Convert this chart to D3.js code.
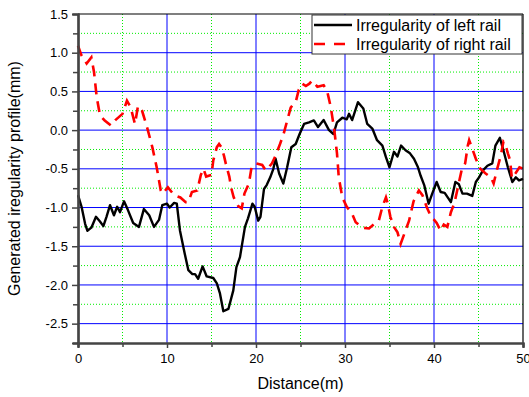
<!DOCTYPE html>
<html>
<head>
<meta charset="utf-8">
<script src="https://cdn.jsdelivr.net/npm/d3@7"></script>
<style>
  body { margin: 0; background: #fff; }
  text { font-family: "Liberation Sans", Arial, sans-serif; }
</style>
</head>
<body>
<svg id="chart"></svg>
<script>
// chart size
const width = 529;
const height = 397;
const margin = { top: 14, right: 6, bottom: 54, left: 78 };

// left rail irregularity
const leftX = [0, 0.4, 0.8, 1.05, 1.5, 2.02, 2.47, 2.85, 3.2, 3.6, 4.04, 4.4, 4.72, 5.17, 5.6, 6.2, 6.85, 7.4, 8.0, 8.54,
  9.1, 9.47, 10.0, 10.3, 10.8, 11.1, 11.46, 12.0, 12.4, 12.85, 13.15, 13.5, 14.0, 14.46, 15.2, 15.6, 15.95, 16.33, 16.9, 17.45,
  17.8, 18.2, 18.76, 19.1, 19.6, 19.85, 20.25, 20.5, 20.9, 21.2, 21.6, 21.95, 22.2, 22.6, 23.07, 23.5, 23.97, 24.46, 24.9, 25.4,
  25.96, 26.5, 26.97, 27.6, 28.2, 28.7, 29.1, 29.7, 30.2, 30.45, 30.8, 31.46, 32.06, 32.5, 33.07, 33.6, 34.2, 34.6, 35.0, 35.5,
  35.9, 36.3, 36.8, 37.3, 37.75, 38.2, 38.5, 38.9, 39.4, 39.8, 40.3, 40.75, 41.2, 41.9, 42.4, 42.8, 43.2, 43.7, 44.3, 44.7,
  45.06, 45.5, 46.0, 46.55, 46.9, 47.4, 47.8, 48.3, 48.8, 49.2, 49.55, 50];
const leftY = [-0.84, -0.99, -1.21, -1.30, -1.26, -1.12, -1.18, -1.24, -1.12, -0.97, -1.10, -0.99, -1.06, -0.92, -1.03, -1.20, -1.25, -1.02, -1.10, -1.25,
  -1.16, -0.97, -0.95, -1.00, -0.94, -0.95, -1.30, -1.60, -1.81, -1.86, -1.86, -1.92, -1.76, -1.89, -1.91, -1.98, -2.11, -2.34, -2.31, -2.07,
  -1.77, -1.64, -1.25, -1.14, -0.95, -0.99, -1.17, -1.12, -0.76, -0.71, -0.61, -0.50, -0.37, -0.56, -0.69, -0.48, -0.22, -0.18, -0.05, 0.08,
  0.10, 0.125, 0.04, 0.13, 0.0, -0.05, 0.10, 0.16, 0.14, 0.21, 0.13, 0.36, 0.28, 0.08, 0.02, -0.13, -0.20, -0.35, -0.48, -0.28,
  -0.34, -0.20, -0.26, -0.30, -0.37, -0.48, -0.59, -0.71, -0.95, -0.82, -0.67, -0.80, -0.81, -0.93, -0.67, -0.70, -0.82, -0.82, -0.85, -0.67,
  -0.61, -0.52, -0.46, -0.43, -0.20, -0.10, -0.26, -0.48, -0.67, -0.61, -0.65, -0.63];

// right rail irregularity
const rightX = [0, 0.37, 0.97, 1.5, 1.8, 2.1, 2.47, 3.0, 3.7, 4.2, 5.0, 5.5, 5.9, 6.4, 6.74, 7.2, 7.8, 8.35, 8.84, 9.3,
  9.5, 10.1, 10.8, 11.5, 12.1, 12.4, 12.8, 13.4, 13.8, 14.1, 14.4, 15.0, 15.2, 15.6, 15.85, 16.1, 16.4, 16.6, 17.0, 17.2,
  17.5, 18.0, 18.4, 18.7, 19.2, 19.5, 20.0, 20.7, 21.1, 21.5, 21.8, 22.2, 22.7, 23.1, 23.9, 24.5, 24.8, 25.2, 25.6, 26.0,
  26.3, 26.9, 27.6, 27.98, 28.4, 28.8, 29.1, 29.3, 29.7, 30.2, 30.8, 31.2, 31.96, 32.7, 33.3, 33.8, 34.2, 34.6, 34.8, 35.1,
  35.5, 35.9, 36.25, 36.6, 37.2, 37.7, 38.3, 38.7, 39.2, 39.6, 40.3, 40.75, 41.1, 41.5, 41.9, 42.3, 43.1, 43.5, 43.8, 43.95,
  44.3, 44.7, 45.2, 45.8, 46.4, 46.7, 47.1, 47.5, 47.8, 48.0, 48.3, 48.55, 48.75, 49.2, 49.6, 50];
const rightY = [1.09, 0.97, 0.86, 0.94, 0.75, 0.43, 0.19, 0.125, 0.06, 0.13, 0.21, 0.38, 0.30, 0.08, 0.31, 0.25, 0.02, -0.22, -0.48, -0.78,
  -0.82, -0.74, -0.84, -0.87, -0.93, -0.93, -0.80, -0.78, -0.58, -0.50, -0.60, -0.58, -0.39, -0.22, -0.18, -0.22, -0.33, -0.43, -0.60, -0.74,
  -0.87, -0.98, -1.01, -0.82, -0.69, -0.48, -0.43, -0.45, -0.52, -0.47, -0.43, -0.33, -0.18, -0.05, 0.29, 0.38, 0.52, 0.60, 0.57, 0.60,
  0.64, 0.56, 0.58, 0.51, 0.30, 0.0, -0.30, -0.61, -0.87, -0.99, -1.08, -1.19, -1.26, -1.27, -1.21, -1.17, -0.99, -0.87, -0.95, -1.12,
  -1.25, -1.32, -1.47, -1.36, -1.17, -0.92, -0.78, -0.84, -1.00, -1.10, -1.20, -1.30, -1.22, -1.25, -1.06, -0.94, -0.52, -0.43, -0.20, -0.13,
  -0.24, -0.37, -0.50, -0.56, -0.61, -0.69, -0.50, -0.33, -0.15, -0.18, -0.30, -0.39, -0.62, -0.55, -0.48, -0.50];

// ticks
const xMajor = [0, 10, 20, 30, 40, 50];
const xMinor = [5, 15, 25, 35, 45];
const yMajor = [-2.5, -2.0, -1.5, -1.0, -0.5, 0.0, 0.5, 1.0, 1.5];
const yMinor = [-2.75, -2.25, -1.75, -1.25, -0.75, -0.25, 0.25, 0.75, 1.25];

const seriesNames = ["Irregularity of left rail", "Irregularity of right rail"];

const svg = d3.select("#chart")
    .attr("width", width)
    .attr("height", height);

const x = d3.scaleLinear().domain([0, 50]).range([margin.left, width - margin.right]);
const y = d3.scaleLinear().domain([-2.75, 1.5]).range([height - margin.bottom, margin.top]);

// minor grid (green dotted)
svg.append("g").selectAll("line")
    .data(xMinor)
    .enter().append("line")
    .attr("x1", d => x(d)).attr("x2", d => x(d))
    .attr("y1", y(1.5)).attr("y2", y(-2.75))
    .attr("stroke", "#00ee00")
    .attr("stroke-dasharray", "1,2");

svg.append("g").selectAll("line")
    .data(yMinor.filter(d => d > -2.75))
    .enter().append("line")
    .attr("x1", x(0)).attr("x2", x(50))
    .attr("y1", d => y(d)).attr("y2", d => y(d))
    .attr("stroke", "#00ee00")
    .attr("stroke-dasharray", "1,2");

// major grid (blue)
svg.append("g").selectAll("line")
    .data(xMajor.filter(d => d > 0 && d < 50))
    .enter().append("line")
    .attr("x1", d => x(d)).attr("x2", d => x(d))
    .attr("y1", y(1.5)).attr("y2", y(-2.75))
    .attr("stroke", "#0000ff");

svg.append("g").selectAll("line")
    .data(yMajor.filter(d => d < 1.5))
    .enter().append("line")
    .attr("x1", x(0)).attr("x2", x(50))
    .attr("y1", d => y(d)).attr("y2", d => y(d))
    .attr("stroke", "#0000ff");

// curves
const leftData = leftX.map((d, i) => [d, leftY[i]]);
const rightData = rightX.map((d, i) => [d, rightY[i]]);
const line = d3.line().x(d => x(d[0])).y(d => y(d[1]));

svg.append("path")
    .datum(leftData)
    .attr("d", line)
    .attr("fill", "none")
    .attr("stroke", "#000")
    .attr("stroke-width", 2.4)
    .attr("stroke-linejoin", "round");

svg.append("path")
    .datum(rightData)
    .attr("d", line)
    .attr("fill", "none")
    .attr("stroke", "#ff0000")
    .attr("stroke-width", 2.6)
    .attr("stroke-dasharray", "11,7");

// frame: top and right border
svg.append("line")
    .attr("x1", x(0)).attr("x2", x(50))
    .attr("y1", y(1.5)).attr("y2", y(1.5))
    .attr("stroke", "#000").attr("stroke-width", 1.2);
svg.append("line")
    .attr("x1", x(50)).attr("x2", x(50))
    .attr("y1", y(1.5)).attr("y2", y(-2.75))
    .attr("stroke", "#000").attr("stroke-width", 1.2);

// axes
const yAxis = svg.append("g")
    .attr("transform", `translate(${x(0)},0)`)
    .call(d3.axisLeft(y).tickValues(yMajor).tickSize(6).tickPadding(4).tickFormat(d => d.toFixed(1)));
svg.append("g")
    .attr("transform", `translate(${x(0)},0)`)
    .call(d3.axisLeft(y).tickValues(yMinor).tickSize(5).tickFormat(""));

const xAxis = svg.append("g")
    .attr("transform", `translate(0,${y(-2.75)})`)
    .call(d3.axisBottom(x).tickValues(xMajor).tickSize(5).tickPadding(6).tickFormat(d3.format("d")));
svg.append("g")
    .attr("transform", `translate(0,${y(-2.75)})`)
    .call(d3.axisBottom(x).tickValues(xMinor).tickSize(4).tickFormat(""));

svg.selectAll(".domain").attr("stroke", "#444").attr("stroke-width", 2.2);
svg.selectAll(".tick line").attr("stroke", "#444").attr("stroke-width", 1.5);
svg.selectAll(".tick text")
    .attr("font-size", 13)
    .attr("fill", "#000")
    .style("font-family", "'Liberation Sans', Arial, sans-serif");

// axis titles
svg.append("text")
    .attr("transform", `translate(20,${(y(1.5) + y(-2.75)) / 2}) rotate(-90)`)
    .attr("text-anchor", "middle")
    .attr("font-size", 16)
    .text("Generated iregularity profile(mm)");

svg.append("text")
    .attr("x", (x(0) + x(50)) / 2)
    .attr("y", 389)
    .attr("text-anchor", "middle")
    .attr("font-size", 16)
    .text("Distance(m)");

// legend
const legend = svg.append("g");
legend.append("rect")
    .attr("x", 312).attr("y", 15)
    .attr("width", 210).attr("height", 39)
    .attr("fill", "#fff")
    .attr("stroke", "#333")
    .attr("stroke-width", 1);

const legendRows = [
  { name: seriesNames[0], color: "#000", dash: null, width: 2.4 },
  { name: seriesNames[1], color: "#ff0000", dash: "11,9", width: 2.6 }
];
legendRows.forEach((r, i) => {
  const ly = 25 + i * 19;
  legend.append("line")
      .attr("x1", 314).attr("x2", 352)
      .attr("y1", ly).attr("y2", ly)
      .attr("stroke", r.color)
      .attr("stroke-width", r.width)
      .attr("stroke-dasharray", r.dash);
  legend.append("text")
      .attr("x", 356).attr("y", ly + 6)
      .attr("font-size", 16)
      .text(r.name);
});
</script>
</body>
</html>
